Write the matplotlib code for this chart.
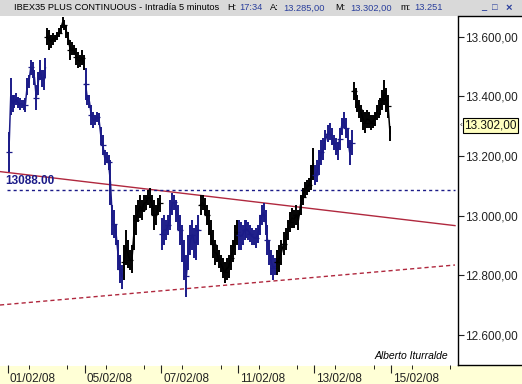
import numpy as np
import matplotlib.pyplot as plt
from matplotlib.patches import Rectangle
from matplotlib.lines import Line2D
from matplotlib.transforms import blended_transform_factory, ScaledTranslation

plt.rcParams['font.family'] = ['Liberation Sans', 'DejaVu Sans']

W, H = 522, 384

session_dates = ['01/02', '04/02', '05/02', '06/02', '07/02',
                 '08/02', '11/02', '12/02', '13/02', '14/02']

hi_0102 = [13281, 13462, 13405, 13405, 13411, 13398, 13395, 13388, 13388, 13395, 13462,
           13472, 13522, 13515, 13488, 13438, 13482, 13522, 13488, 13488, 13529]
lo_0102 = [13147, 13338, 13348, 13361, 13371, 13361, 13354, 13361, 13354, 13348, 13405,
           13428, 13472, 13462, 13438, 13354, 13405, 13455, 13432, 13421, 13462]

hi_0402 = [13629, 13622, 13606, 13612, 13606, 13616, 13629, 13639, 13666, 13656,
           13639, 13616, 13589, 13582, 13572, 13562, 13549, 13539, 13555, 13539]
lo_0402 = [13572, 13555, 13562, 13572, 13582, 13589, 13599, 13612, 13629, 13622,
           13596, 13572, 13522, 13539, 13539, 13505, 13495, 13499, 13505, 13488]

hi_0502 = [13495, 13405, 13405, 13371, 13348, 13338, 13348, 13344, 13298, 13271,
           13220, 13214, 13204, 13187, 13036, 13019, 12969, 12919, 12868, 12835]
lo_0502 = [13388, 13371, 13361, 13304, 13294, 13304, 13314, 13304, 13237, 13204,
           13170, 13177, 13153, 13036, 12935, 12926, 12902, 12818, 12775, 12755]

hi_0602 = [12902, 12952, 12919, 12885, 12902, 13003, 13036, 13053, 13070, 13053,
           13070, 13070, 13086, 13093, 13070, 13053, 13036, 13060, 13070]
lo_0602 = [12785, 12835, 12825, 12818, 12808, 12885, 12935, 12979, 12993, 12986,
           13013, 13019, 13036, 13026, 13003, 12952, 12969, 13003, 13013]

hi_0702 = [12993, 13003, 12986, 13003, 13053, 13076, 13070, 13053, 13036, 13003,
           12969, 12919, 12868, 12935, 12969, 12986, 12959, 12969, 13003]
lo_0702 = [12885, 12902, 12919, 12935, 12952, 13003, 13019, 12979, 12952, 12902,
           12845, 12785, 12728, 12818, 12868, 12885, 12859, 12852, 12902]

hi_0802 = [13070, 13070, 13060, 13036, 13019, 12986, 12952, 12919, 12902, 12885,
           12868, 12859, 12845, 12859, 12868, 12902, 12919, 12969, 12986]
lo_0802 = [13003, 13019, 13003, 12969, 12935, 12902, 12859, 12835, 12845, 12825,
           12812, 12792, 12775, 12785, 12792, 12818, 12845, 12868, 12902]

hi_1102 = [12986, 12979, 12969, 12986, 12986, 12979, 12969, 12959, 12952, 12959,
           12969, 13003, 13036, 13043, 13019, 12969, 12919, 12885, 12868, 12859]
lo_1102 = [12885, 12885, 12902, 12919, 12926, 12919, 12912, 12902, 12902, 12892,
           12909, 12935, 12969, 12979, 12935, 12868, 12835, 12802, 12785, 12802]

hi_1202 = [12885, 12902, 12919, 12946, 12959, 12986, 13013, 13026, 13019, 13036,
           13019, 13070, 13093, 13113, 13120, 13127, 13170, 13227]
lo_1202 = [12802, 12812, 12835, 12868, 12885, 12919, 12946, 12959, 12959, 12969,
           12952, 13003, 13036, 13060, 13070, 13080, 13086, 13120]

hi_1302 = [13170, 13187, 13220, 13254, 13261, 13287, 13304, 13311, 13294, 13271,
           13261, 13247, 13294, 13328, 13348, 13328, 13294, 13254, 13287]
lo_1302 = [13103, 13113, 13137, 13170, 13187, 13220, 13247, 13254, 13237, 13220,
           13204, 13187, 13220, 13271, 13294, 13261, 13227, 13170, 13204]

hi_1402 = [13448, 13428, 13405, 13388, 13371, 13354, 13348, 13354, 13348, 13338,
           13338, 13348, 13371, 13388, 13395, 13421, 13455, 13428, 13405, 13302]
lo_1402 = [13388, 13361, 13348, 13328, 13314, 13287, 13277, 13294, 13294, 13287,
           13294, 13301, 13321, 13328, 13338, 13354, 13371, 13348, 13328, 13251]

axis_labels = ['01/02/08', '05/02/08', '07/02/08', '11/02/08', '13/02/08', '15/02/08']
axis_label_days = [0, 2, 4, 6, 8, 10]
price_ticks = [12600, 12800, 13000, 13200, 13400, 13600]

level_13088 = 13088
resistance = (13148, 12967)   # red line, left edge -> right end
support = (12701, 12835)      # red dashed line, left edge -> right end
last_price = 13302

highs = [hi_0102, hi_0402, hi_0502, hi_0602, hi_0702, hi_0802, hi_1102, hi_1202, hi_1302, hi_1402]
lows = [lo_0102, lo_0402, lo_0502, lo_0602, lo_0702, lo_0802, lo_1102, lo_1202, lo_1302, lo_1402]

BLUE = '#1b1b88'
RED = '#b0283e'
VAL = '#2a3f9c'

fig = plt.figure(figsize=(W / 100, H / 100), dpi=100)
fig.patch.set_facecolor('white')

# panels around the chart
fig.patches.append(Rectangle((0, 0), 1, 18 / H, transform=fig.transFigure,
                             fc='#ffffd6', ec='none', zorder=-5))
fig.patches.append(Rectangle((0, 1 - 16 / H), 1, 16 / H, transform=fig.transFigure,
                             fc='#d9d9d9', ec='none', zorder=-5))

ax = fig.add_axes([0, 19 / H, 458 / W, 348 / H])
ax.set_facecolor('white')

px_per_day = 38.3
x0 = -8 / px_per_day
x1 = 450 / px_per_day
ax.set_xlim(x0, x1)
ax.set_ylim(12500, 13666)

for d, (hi, lo) in enumerate(zip(highs, lows)):
    hi = np.array(hi)
    lo = np.array(lo)
    n = len(hi)
    x = d + (np.arange(n) + 0.5) / n
    c = BLUE if d % 2 == 0 else 'black'
    ax.vlines(x, lo, hi, color=c, lw=1.4, zorder=3)
    ax.plot(x, (hi + lo) / 2, color=c, lw=1.1, zorder=3)
    ax.plot(x[::3], ((hi + lo) / 2)[::3], ls='none', marker='_', ms=4, mew=0.9, color=c, zorder=3)

x_end = 447 / px_per_day
ax.plot([x0, x_end], resistance, color=RED, lw=1, zorder=2)
ax.plot([x0, x_end], support, color=RED, lw=1, ls=(0, (3, 2.2)), zorder=2)
ax.plot([-0.03, x_end], [level_13088, level_13088], color=BLUE, lw=1, ls=(0, (2.2, 2.2)), zorder=2)
ax.annotate(f'{level_13088}.00', xy=(0.012, level_13088),
            xycoords=blended_transform_factory(ax.transAxes, ax.transData),
            xytext=(0, 1.5), textcoords='offset points', va='bottom', ha='left',
            fontsize=8.5, fontweight='bold', color=BLUE)

for s in ['top', 'left', 'bottom']:
    ax.spines[s].set_visible(False)
ax.spines['right'].set_color('black')
ax.spines['right'].set_linewidth(1)

ax.yaxis.tick_right()
ax.set_yticks(price_ticks)
ax.set_yticklabels([f'{v // 1000}.{v % 1000:03d},00' for v in price_ticks])
ax.tick_params(axis='y', direction='out', length=4, pad=1, labelsize=8.5, colors='#222222')

ax.set_xticks(axis_label_days)
ax.set_xticklabels(axis_labels)
ax.set_xticks([d + f for d in axis_label_days for f in (0.55, 1.55)], minor=True)
ax.tick_params(axis='x', which='major', direction='out', length=6, pad=0, labelsize=8.5, colors='#222222')
ax.tick_params(axis='x', which='minor', direction='out', length=3)
shift = ScaledTranslation(2 / 100, 0, fig.dpi_scale_trans)
for lbl in ax.get_xticklabels():
    lbl.set_ha('left')
    lbl.set_transform(lbl.get_transform() + shift)

# last price marker
ax.text(1.013, last_price, f'{last_price // 1000}.{last_price % 1000:03d},00',
        transform=blended_transform_factory(ax.transAxes, ax.transData),
        va='center', ha='left', fontsize=8.5, color='#111111', clip_on=False,
        bbox=dict(boxstyle='square,pad=0.12', fc='#ffffc0', ec='black', lw=0.8))
ax.text(1.003, last_price, '‹', transform=blended_transform_factory(ax.transAxes, ax.transData),
        va='center', ha='left', fontsize=6, color='#333333', clip_on=False)

# right panel frame lines
fig.lines.append(Line2D([458 / W, 1], [1 - 16 / H, 1 - 16 / H], transform=fig.transFigure, color='black', lw=1))
fig.lines.append(Line2D([458 / W, 1], [19 / H, 19 / H], transform=fig.transFigure, color='black', lw=1))


def ftext(px, py, s, ha='left', **kw):
    fig.text(px / W, 1 - py / H, s, va='center', ha=ha, **kw)


ftext(448, 356, 'Alberto Iturralde', ha='right', fontsize=7.5, style='italic')

# title bar
TS = 6.7
ftext(14, 8, 'IBEX35 PLUS CONTINUOUS - Intradía 5 minutos', fontsize=TS)
ftext(227, 8, 'H:', fontsize=TS)
ftext(239, 8, '17:34', fontsize=TS, color=VAL)
ftext(270, 8, 'A:', fontsize=TS)
ftext(283, 8, '13.285,00', fontsize=TS, color=VAL)
ftext(335, 8, 'M:', fontsize=TS)
ftext(350, 8, '13.302,00', fontsize=TS, color=VAL)
ftext(400, 8, 'm:', fontsize=TS)
ftext(414, 8, '13.251', fontsize=TS, color=VAL)
ftext(481, 8, '_', fontsize=TS, color=VAL, fontweight='bold')
ftext(492, 8, '□', fontsize=TS, color=VAL)
ftext(506, 8, '×', fontsize=8, color=VAL, fontweight='bold')

fig.savefig('out.png', dpi=100)
